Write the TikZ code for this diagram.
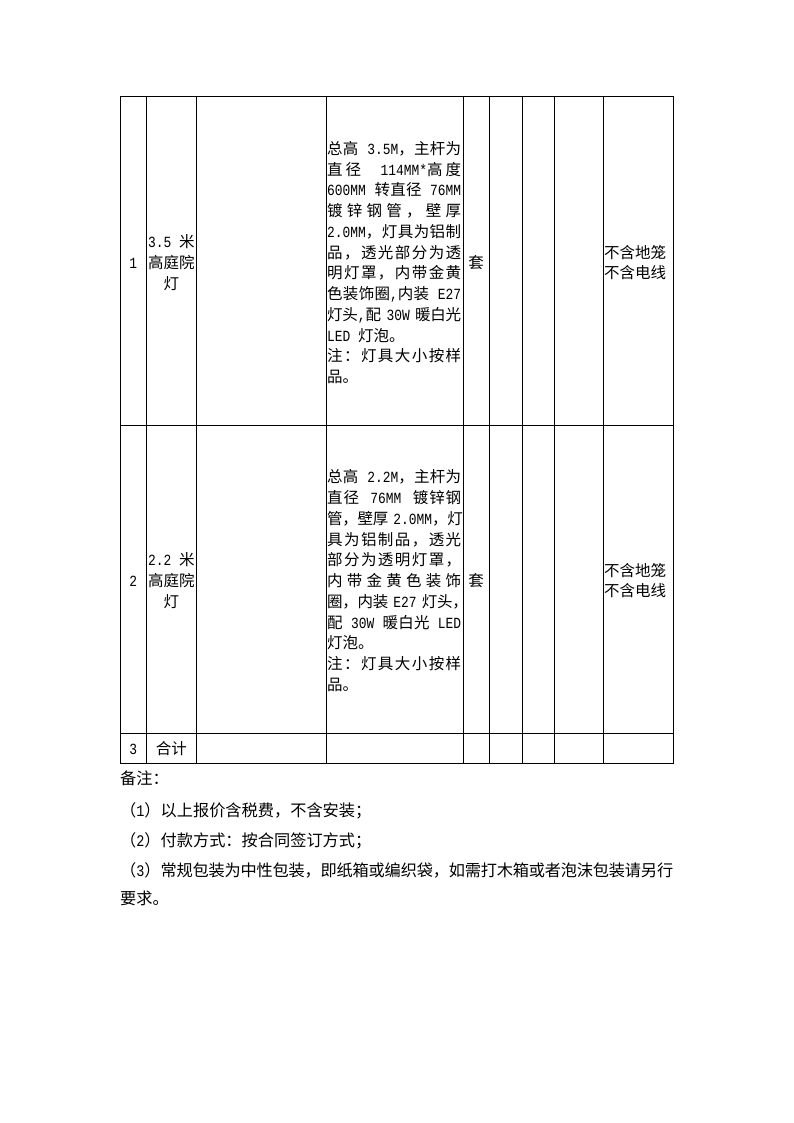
\documentclass[tikz,border=0pt]{standalone}
\usepackage{fontspec}
\setmainfont{Noto Sans CJK SC}
\newfontfamily\monof{Liberation Mono}[FakeStretch=0.833]
\newcount\cjkc
\cjkc="4E00
\loop
  \XeTeXcharclass\cjkc=7
  \advance\cjkc 1
\ifnum\cjkc<"A000 \repeat
\XeTeXcharclass"3002=7
\XeTeXcharclass"FF0C=7
\XeTeXcharclass"FF1A=7
\XeTeXcharclass"FF08=7
\XeTeXcharclass"FF09=7
\XeTeXcharclass"FF1B=7
\XeTeXinterchartoks 7 7 = {\hskip 0pt plus 1pt minus 0.3pt\relax}
\XeTeXinterchartokenstate=1
\newcommand\m[1]{{\monof #1}}
\newcommand\dls[1]{\makebox[134pt][s]{#1}}
\newcommand\dll[1]{\makebox[134pt][l]{#1}}
\begin{document}
\begin{tikzpicture}[x=1pt,y=-1pt,
  grid/.style={line width=0.9pt,black},
  tl/.style={anchor=base west,inner sep=0pt,font=\fontsize{15.5}{20}\selectfont},
  tc/.style={anchor=base,inner sep=0pt,font=\fontsize{15.5}{20}\selectfont},
  nt/.style={anchor=base west,inner sep=0pt,font=\fontsize{16.2}{20}\selectfont}]
\useasboundingbox (0,0) rectangle (794,1123);
\fill[white] (0,0) rectangle (794,1123);
% table grid
\draw[grid] (120,96) rectangle (673,763);
\foreach \xx in {146.5,196,326,463,489,522,554.5,603}
  \draw[grid] (\xx,96) -- (\xx,763);
\draw[grid] (120,425) -- (673,425);
\draw[grid] (120,733) -- (673,733);
% row 1
\node[tc] (n1) at (133.3,268.5) {\m{1}};
\node[tc] (a1) at (171.3,247.75) {\m{3.5 }米};
\node[tc] (a2) at (171.3,268.5) {高庭院};
\node[tc] (a3) at (171.3,289.25) {灯};
\node[tl] (d1) at (327,154.4) {\dls{总高\m{ 3.5M}，主杆为}};
\node[tl] (d2) at (327,175.15) {\dls{直径\m{  114MM*}高度}};
\node[tl] (d3) at (327,195.9) {\dls{\m{600MM }转直径\m{ 76MM}}};
\node[tl] (d4) at (327,216.65) {\dls{镀锌钢管，壁厚}};
\node[tl] (d5) at (327,237.4) {\dls{\m{2.0MM}，灯具为铝制}};
\node[tl] (d6) at (327,258.15) {\dls{品，透光部分为透}};
\node[tl] (d7) at (327,278.9) {\dls{明灯罩，内带金黄}};
\node[tl] (d8) at (327,299.65) {\dls{色装饰圈\m{,}内装\m{ E27}}};
\node[tl] (d9) at (327,320.4) {\dls{灯头\m{,}配\m{ 30W }暖白光}};
\node[tl] (d10) at (327,341.15) {\dll{\m{LED }灯泡。}};
\node[tl] (d11) at (327,361.9) {\dls{注：灯具大小按样}};
\node[tl] (d12) at (327,382.65) {\dll{品。}};
\node[tc] (u1) at (476,268.5) {套};
\node[tl] (r1) at (604,258.1) {不含地笼};
\node[tl] (r2) at (604,278.9) {不含电线};
% row 2
\node[tc] (n2) at (133.3,586.5) {\m{2}};
\node[tc] (b1) at (171.3,565.75) {\m{2.2 }米};
\node[tc] (b2) at (171.3,586.5) {高庭院};
\node[tc] (b3) at (171.3,607.25) {灯};
\node[tl] (e1) at (327,482.75) {\dls{总高\m{ 2.2M}，主杆为}};
\node[tl] (e2) at (327,503.5) {\dls{直径\m{ 76MM }镀锌钢}};
\node[tl] (e3) at (327,524.25) {\dls{管，壁厚\m{ 2.0MM}，灯}};
\node[tl] (e4) at (327,545) {\dls{具为铝制品，透光}};
\node[tl] (e5) at (327,565.75) {\dls{部分为透明灯罩，}};
\node[tl] (e6) at (327,586.5) {\dls{内带金黄色装饰}};
\node[tl] (e7) at (327,607.25) {\dls{圈，内装\m{ E27 }灯头，}};
\node[tl] (e8) at (327,628) {\dls{配\m{ 30W }暖白光\m{ LED}}};
\node[tl] (e9) at (327,648.75) {\dll{灯泡。}};
\node[tl] (e10) at (327,669.5) {\dls{注：灯具大小按样}};
\node[tl] (e11) at (327,690.25) {\dll{品。}};
\node[tc] (u2) at (476,586.5) {套};
\node[tl] (s1) at (604,576.1) {不含地笼};
\node[tl] (s2) at (604,596.9) {不含电线};
% row 3
\node[tc] (n3) at (133.3,754) {\m{3}};
\node[tc] (c1) at (171.3,754) {合计};
% notes
\node[nt] (k0) at (120,784) {备注：};
\node[nt] (k1) at (120,816) {（\m{1}）以上报价含税费，不含安装；};
\node[nt] (k2) at (120,846) {（\m{2}）付款方式：按合同签订方式；};
\node[nt] (k3) at (120,876) {\makebox[553pt][s]{（\m{3}）常规包装为中性包装，即纸箱或编织袋，如需打木箱或者泡沫包装请另行}};
\node[nt] (k4) at (120,904) {要求。};
\end{tikzpicture}
\end{document}
